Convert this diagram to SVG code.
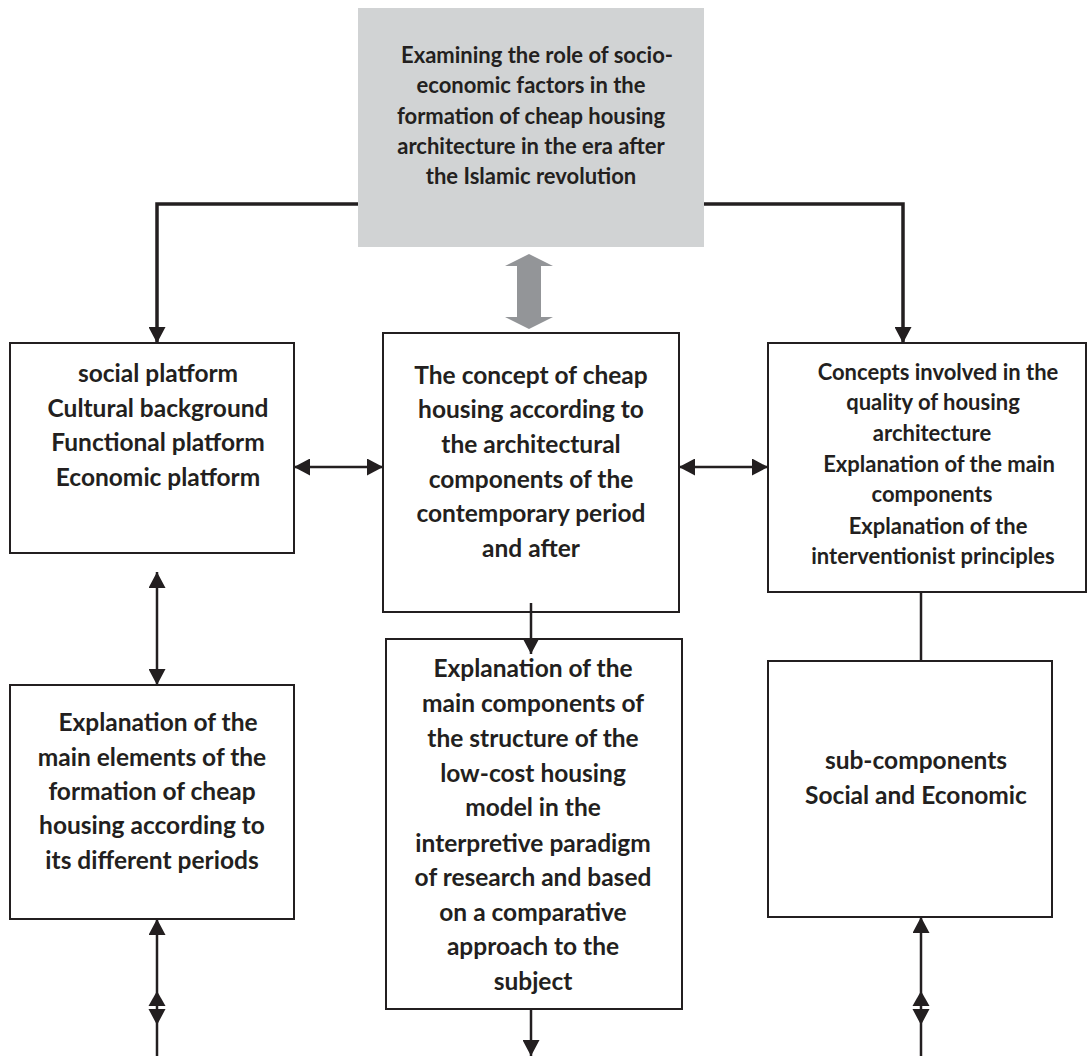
<svg xmlns="http://www.w3.org/2000/svg" width="1088" height="1056" viewBox="0 0 1088 1056">
<style>
.box{fill:#ffffff;stroke:#231f20;stroke-width:2}
.t{font-family:Lato,"Open Sans","Liberation Sans",sans-serif;font-weight:bold;fill:#231f20;text-anchor:middle}
.big{font-size:24.5px}
.sm{font-size:22px}
.c{fill:none;stroke:#231f20;stroke-width:3.5}
.c2{fill:none;stroke:#231f20;stroke-width:2.5}
.hd{fill:#231f20}
</style>
<defs>
<marker id="ah" markerUnits="userSpaceOnUse" markerWidth="16" markerHeight="17" refX="16" refY="8.5" orient="auto-start-reverse" viewBox="0 0 16 17">
<path d="M0,0 L16,8.5 L0,17 z" fill="#231f20"/>
</marker>
</defs>
<rect width="1088" height="1056" fill="#ffffff"/>

<g id="node-top">
<rect x="358" y="8" width="346" height="239" fill="#d1d3d4"/>
<text class="t sm" x="537" y="63">Examining the role of socio-</text>
<text class="t sm" x="531" y="93">economic factors in the</text>
<text class="t sm" x="531" y="124">formation of cheap housing</text>
<text class="t sm" x="531" y="154">architecture in the era after</text>
<text class="t sm" x="531" y="184">the Islamic revolution</text>
</g>

<g id="node-left1">
<rect class="box" x="10" y="343" width="284" height="210"/>
<text class="t big" x="158" y="382">social platform</text>
<text class="t big" x="158" y="417">Cultural background</text>
<text class="t big" x="158" y="451">Functional platform</text>
<text class="t big" x="158" y="486">Economic platform</text>
</g>

<g id="node-center1">
<rect class="box" x="383" y="333" width="296" height="279"/>
<text class="t big" x="531" y="384">The concept of cheap</text>
<text class="t big" x="531" y="418">housing according to</text>
<text class="t big" x="531" y="453">the architectural</text>
<text class="t big" x="531" y="488">components of the</text>
<text class="t big" x="531" y="522">contemporary period</text>
<text class="t big" x="531" y="557">and after</text>
</g>

<g id="node-right1">
<rect class="box" x="768" y="343" width="318" height="249"/>
<text class="t sm" x="938" y="380">Concepts involved in the</text>
<text class="t sm" x="933" y="410">quality of housing</text>
<text class="t sm" x="932" y="441">architecture</text>
<text class="t sm" x="939" y="472">Explanation of the main</text>
<text class="t sm" x="932" y="502">components</text>
<text class="t sm" x="938" y="534">Explanation of the</text>
<text class="t sm" x="933" y="564">interventionist principles</text>
</g>

<g id="node-left2">
<rect class="box" x="10" y="685" width="284" height="234"/>
<text class="t big" x="158" y="731">Explanation of the</text>
<text class="t big" x="152" y="766">main elements of the</text>
<text class="t big" x="152" y="800">formation of cheap</text>
<text class="t big" x="152" y="834">housing according to</text>
<text class="t big" x="152" y="869">its different periods</text>
</g>

<g id="node-center2">
<rect class="box" x="386" y="639" width="296" height="370"/>
<text class="t big" x="533" y="677">Explanation of the</text>
<text class="t big" x="533" y="712">main components of</text>
<text class="t big" x="533" y="747">the structure of the</text>
<text class="t big" x="533" y="782">low-cost housing</text>
<text class="t big" x="533" y="816">model in the</text>
<text class="t big" x="533" y="852">interpretive paradigm</text>
<text class="t big" x="533" y="886">of research and based</text>
<text class="t big" x="533" y="921">on a comparative</text>
<text class="t big" x="533" y="955">approach to the</text>
<text class="t big" x="533" y="990">subject</text>
</g>

<g id="node-right2">
<rect class="box" x="768" y="661" width="284" height="256"/>
<text class="t big" x="916" y="769">sub-components</text>
<text class="t big" x="916" y="804">Social and Economic</text>
</g>

<g id="connectors">
<path class="c" d="M358,204 H157 V343" marker-end="url(#ah)"/>
<path class="c" d="M704,204 H903 V343" marker-end="url(#ah)"/>
<polygon points="529,254 553,266 541,266 541,317 553,317 529,329 505,317 517,317 517,266 505,266" fill="#939598"/>
<path class="c2" d="M294,467 H383" marker-start="url(#ah)" marker-end="url(#ah)"/>
<path class="c2" d="M679,467 H768" marker-start="url(#ah)" marker-end="url(#ah)"/>
<path class="c2" d="M157,572 V685" marker-start="url(#ah)" marker-end="url(#ah)"/>
<path class="c2" d="M531,603 V654" marker-end="url(#ah)"/>
<path class="c2" d="M921,592 V661"/>
<path class="c2" d="M157,1056 V919" marker-end="url(#ah)"/>
<polygon class="hd" points="157,991 165.5,1006 148.5,1006"/>
<polygon class="hd" points="148.5,1009 165.5,1009 157,1025"/>
<path class="c2" d="M921,1056 V917" marker-end="url(#ah)"/>
<polygon class="hd" points="921,991 929.5,1006 912.5,1006"/>
<polygon class="hd" points="912.5,1009 929.5,1009 921,1025"/>
<path class="c2" d="M531,1009 V1056" marker-end="url(#ah)"/>
</g>
</svg>
